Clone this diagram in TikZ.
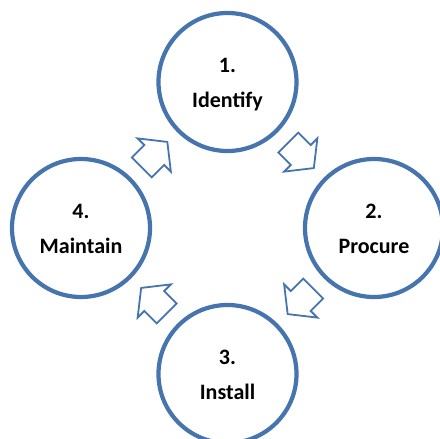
\documentclass[tikz,border=0pt]{standalone}
\usepackage{fontspec}
\setmainfont{Carlito}
\usetikzlibrary{calc}
\definecolor{cycleblue}{RGB}{70,116,174}
\tikzset{
  x=1pt, y=1pt,
  stage/.style={circle, draw=cycleblue, line width=4.2pt, fill=white,
                minimum size=138pt, inner sep=0pt},
  steptext/.style={font=\bfseries\fontsize{22}{26}\selectfont, anchor=base},
  cyclearrow/.pic={
    \draw[cycleblue, line width=1.8pt, fill=white, line join=miter]
      (-17.6,14) -- (0,14) -- (0,23.5) -- (18.5,0) -- (0,-23.5)
      -- (0,-14) -- (-17.6,-14) -- cycle;
  }
}
\begin{document}
\begin{tikzpicture}
  \useasboundingbox (0,0) rectangle (440,-439);
  % the four stages
  \node[stage] (identify) at (227.5,-82) {};
  \node[stage] (procure)  at (374,-228) {};
  \node[stage] (install)  at (227.5,-374) {};
  \node[stage] (maintain) at (81,-228) {};
  % stage labels
  \foreach \s/\n/\t in {identify/1./Identify, procure/2./Procure,
                        install/3./Install, maintain/4./Maintain}{
    \node[steptext] at ($(\s)+(0,10)$) {\n};
    \node[steptext] at ($(\s)+(0,-25)$) {\t};
  }
  % block arrows running clockwise between the stages
  \pic[rotate=-45]  at ($(identify)!0.5!(procure)$)  {cyclearrow};
  \pic[rotate=-135] at ($(procure)!0.5!(install)$)   {cyclearrow};
  \pic[rotate=135]  at ($(install)!0.5!(maintain)$)  {cyclearrow};
  \pic[rotate=45]   at ($(maintain)!0.5!(identify)$) {cyclearrow};
\end{tikzpicture}
\end{document}
